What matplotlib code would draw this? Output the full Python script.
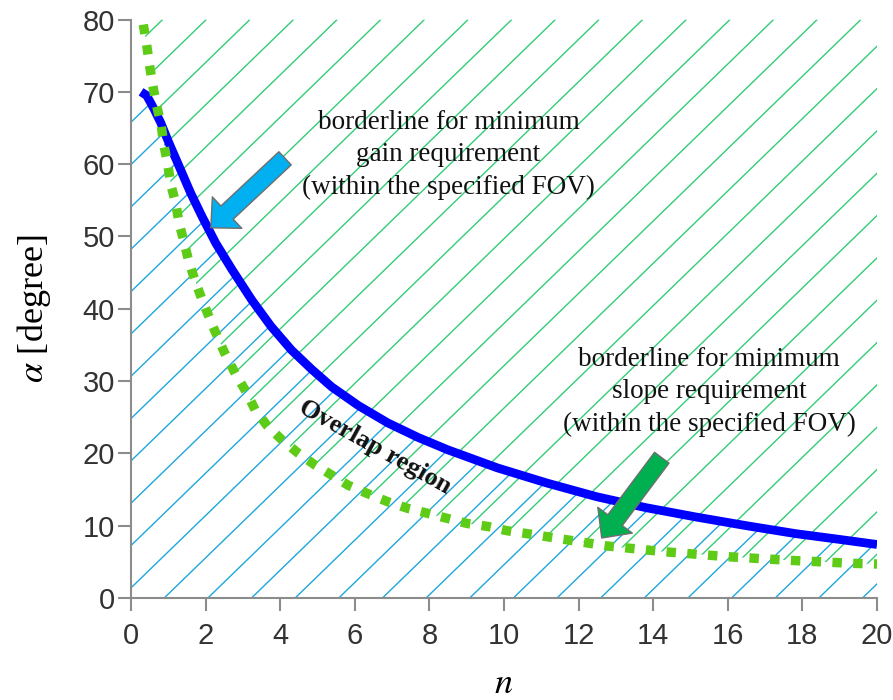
import matplotlib
matplotlib.use("Agg")
import matplotlib.pyplot as plt
import numpy as np
from matplotlib.collections import LineCollection
from matplotlib.patches import FancyArrowPatch, ArrowStyle

plt.rcParams['mathtext.fontset'] = 'stix'

# borderline for minimum gain requirement (solid blue)
n_gain = [0.27, 0.42, 0.62, 0.8, 1.02, 1.29, 1.6, 1.91, 2.27, 2.71, 3.24, 3.75,
          4.3, 4.85, 5.38, 6.1, 6.89, 7.7, 8.49, 9.82, 11.15, 12.49, 13.8,
          15.15, 16.5, 17.82, 19.0, 20.0]
a_gain = [70.0, 69.5, 67.6, 65.7, 62.9, 59.7, 56.0, 52.7, 49.1, 45.4, 41.2, 37.6,
          34.3, 31.6, 29.2, 26.6, 24.2, 22.2, 20.5, 18.0, 15.9, 14.0, 12.5,
          11.2, 10.0, 8.9, 8.1, 7.4]

# borderline for minimum slope requirement (dotted green)
n_slope = [0.33, 0.42, 0.49, 0.58, 0.68, 0.8, 0.88, 0.98, 1.07, 1.2, 1.29, 1.42,
           1.55, 1.73, 1.91, 2.2, 2.5, 2.8, 3.1, 3.33, 3.64, 4.04, 4.49, 4.93,
           5.38, 5.82, 6.36, 6.89, 7.42, 7.96, 8.49, 9.02, 9.56, 10.09, 10.62,
           11.5, 12.76, 14.3, 16.04, 17.7, 19.33, 20.0]
a_slope = [79.3, 76.5, 73.9, 71.0, 68.2, 65.7, 62.7, 60.1, 57.1, 54.6, 51.8, 49.3,
           46.5, 43.7, 41.2, 37.5, 34.0, 31.0, 28.4, 26.0, 23.9, 21.9, 20.0, 18.4,
           17.0, 15.6, 14.4, 13.3, 12.4, 11.7, 11.0, 10.3, 9.9, 9.3, 8.9,
           8.2, 7.2, 6.4, 5.7, 5.2, 4.8, 4.7]

x_ticks = np.arange(0, 21, 2)
y_ticks = np.arange(0, 81, 10)
x_max, y_max = 20, 80

fig = plt.figure(figsize=(8.93, 7), dpi=100)
ax = fig.add_axes([0.1467, 0.1457, 0.8354, 0.8264])
ax.set_xlim(0, x_max)
ax.set_ylim(0, y_max)

# hatch slope in data units (about 45 deg on screen), spacing along n
bb = ax.get_position()
W, H = fig.get_figwidth() * fig.dpi, fig.get_figheight() * fig.dpi
k = (bb.width * W / x_max) / (bb.height * H / y_max) * 0.97
step = 1.17

def hatch(px, py, c0, color):
    region = ax.fill(px, py, facecolor='none', edgecolor='none')[0]
    cs = c0 + step * np.arange(-40, 20)
    cs = cs[(cs > -y_max / k - step) & (cs < x_max + step)]
    segs = [[(c, 0), (c + y_max / k, y_max)] for c in cs]
    lc = LineCollection(segs, colors=color, linewidths=1.0, zorder=1)
    lc.set_clip_path(region)
    ax.add_collection(lc, autolim=False)

# below the gain borderline
hatch([0, 0] + n_gain + [x_max], [0, a_gain[0]] + a_gain + [0], 0.89, '#1ea6de')
# above the slope borderline
hatch(n_slope + [x_max, n_slope[0]], a_slope + [y_max, y_max], 0.89 + 0.35, '#33cc77')

ax.plot(n_gain, a_gain, color='#0000ff', lw=6.3, solid_capstyle='butt',
        solid_joinstyle='round', zorder=3)
ax.plot(n_slope, a_slope, color='#5ecc16', lw=6.8, linestyle=(0, (1, 1.2)),
        dash_capstyle='butt', zorder=4)

# block arrows
ax.add_patch(FancyArrowPatch((4.13, 60.8), (2.14, 51.2),
             arrowstyle=ArrowStyle.Simple(head_length=16, head_width=31, tail_width=13),
             facecolor='#00b0f0', edgecolor='#6e6e6e', lw=1.0,
             shrinkA=0, shrinkB=0, zorder=5))
ax.add_patch(FancyArrowPatch((14.23, 19.4), (12.62, 8.3),
             arrowstyle=ArrowStyle.Simple(head_length=16, head_width=31, tail_width=13),
             facecolor='#00b050', edgecolor='#6e6e6e', lw=1.0,
             shrinkA=0, shrinkB=0, zorder=5))

serif = 'Liberation Serif'
ax.text(8.51, 61.3, 'borderline for minimum\ngain requirement\n(within the specified FOV)',
        ha='center', va='center', multialignment='center', fontsize=19.5,
        family=serif, color='#111111', linespacing=1.4, zorder=6)
ax.text(15.5, 28.5, 'borderline for minimum\nslope requirement\n(within the specified FOV)',
        ha='center', va='center', multialignment='center', fontsize=19.5,
        family=serif, color='#111111', linespacing=1.4, zorder=6)
ax.text(6.54, 20.9, 'Overlap region', rotation=-29, rotation_mode='anchor',
        ha='center', va='center', fontsize=19, fontweight='bold',
        family=serif, color='#111111', zorder=6)

for side in ['top', 'right']:
    ax.spines[side].set_visible(False)
for side in ['left', 'bottom']:
    ax.spines[side].set_color('#8c8c8c')
    ax.spines[side].set_linewidth(1.5)
ax.set_xticks(x_ticks)
ax.set_yticks(y_ticks)
ax.tick_params(direction='out', length=9.5, width=1.5, color='#8c8c8c',
               labelsize=21, labelcolor='#333333')
ax.tick_params(axis='x', pad=8)
ax.tick_params(axis='y', pad=2)
for lab in ax.get_xticklabels() + ax.get_yticklabels():
    lab.set_family('Liberation Sans')

ax.set_xlabel(r'$n$', fontsize=26)
ax.set_ylabel(r'$\alpha$ [degree]', fontsize=26, family=serif)
ax.xaxis.label.set_va('center')
ax.xaxis.set_label_coords(0.5, -0.147)
ax.yaxis.set_label_coords(-0.105, 0.5)

fig.savefig('out.png', dpi=100)
